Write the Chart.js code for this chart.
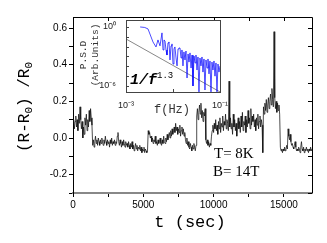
<!DOCTYPE html>
<html>
<head>
<meta charset="utf-8">
<script src="https://cdn.jsdelivr.net/npm/chart.js@4.4.0/dist/chart.umd.min.js"></script>
<style>
  html, body { margin: 0; padding: 0; background: #fff; }
  #caja { position: relative; width: 327px; height: 243px; }
  #principal { position: absolute; left: 0; top: 0; }
  #recuadro { position: absolute; left: 100px; top: 10px; }
</style>
</head>
<body>
<div id="caja">
  <canvas id="principal" width="327" height="243"></canvas>
  <canvas id="recuadro" width="140" height="100"></canvas>
</div>
<script>
// serie de resistencia, una muestra cada 50 s (0 .. 17000 s), una fila = 1000 s
var paso = 50;
var resistencia = [
  0.08, 0.10, 0.05, 0.09, 0.12, 0.06, 0.10, 0.04, 0.13, 0.08, 0.17, 0.10, 0.05, 0.09, 0.00, 0.06, 0.02, 0.11, 0.07, 0.13,
  0.04, 0.10, 0.06, 0.15, 0.09, 0.16, 0.11, 0.07, -0.04, -0.01, -0.05, -0.02, 0.01, -0.03, -0.01, -0.04, 0.00, -0.02, -0.04, -0.01,
  -0.03, 0.00, -0.02, -0.04, -0.01, -0.03, 0.01, -0.02, -0.04, -0.01, -0.03, -0.02, -0.05, -0.01, -0.03, 0.00, -0.04, -0.02, -0.03, -0.01,
  -0.04, -0.02, -0.03, 0.01, 0.03, -0.02, -0.04, -0.01, -0.03, -0.05, -0.02, -0.04, -0.01, -0.03, -0.05, -0.02, -0.04, -0.03, -0.05, -0.02,
  -0.04, -0.06, -0.03, -0.05, -0.02, -0.06, -0.04, -0.07, -0.05, -0.03, -0.06, -0.04, -0.07, -0.05, -0.06, -0.04, -0.07, -0.05, -0.08, -0.06,
  -0.07, -0.05, -0.08, -0.06, -0.07, -0.08, -0.07, 0.04, 0.02, 0.03, 0.00, 0.01, -0.02, 0.00, -0.03, -0.01, -0.02, 0.01, -0.03, -0.02,
  -0.04, -0.01, -0.03, -0.02, 0.00, -0.03, -0.04, -0.01, -0.03, 0.01, -0.02, -0.03, 0.00, -0.02, 0.02, -0.01, 0.01, 0.03, 0.00, 0.04,
  0.01, 0.05, 0.02, 0.04, 0.06, 0.03, 0.08, 0.04, 0.06, 0.02, 0.05, 0.03, 0.07, 0.01, 0.04, 0.06, 0.02, 0.05, 0.01, 0.03,
  -0.01, -0.03, 0.00, -0.04, -0.02, -0.05, -0.06, -0.03, -0.05, -0.07, -0.04, -0.06, -0.03, -0.05, -0.07, -0.04, 0.12, 0.16, 0.10, 0.14,
  0.18, 0.13, 0.19, 0.11, 0.15, 0.09, 0.14, 0.12, 0.16, -0.01, -0.03, -0.01, -0.04, -0.02, -0.05, -0.03, -0.04, 0.01, 0.04, 0.07,
  0.03, 0.08, 0.05, 0.10, 0.04, 0.07, 0.02, 0.09, 0.05, 0.11, 0.03, 0.08, 0.06, 0.12, 0.04, 0.09, 0.07, 0.13, 0.05, 0.10,
  0.08, 0.04, 0.31, 0.06, 0.11, 0.05, 0.08, 0.02, 0.13, 0.06, 0.10, 0.04, 0.08, 0.01, 0.07, 0.11, 0.05, 0.09, 0.03, 0.12,
  0.06, 0.14, 0.04, 0.09, 0.07, 0.12, 0.03, 0.10, 0.06, 0.15, 0.08, 0.11, 0.05, 0.16, 0.07, 0.12, 0.09, 0.13, 0.06, 0.10,
  0.04, 0.11, 0.07, 0.13, 0.05, 0.09, 0.12, 0.06, 0.10, 0.07, -0.08, 0.17, 0.13, 0.19, 0.15, 0.21, 0.14, 0.18, 0.22, 0.16,
  0.20, 0.24, 0.18, 0.27, 0.21, 0.17, 0.58, 0.22, 0.16, 0.20, 0.14, 0.19, 0.15, 0.18, 0.13, -0.05, -0.07, -0.06, -0.08, -0.06,
  -0.07, -0.05, -0.07, -0.06, -0.04, -0.06, 0.05, 0.01, -0.01, 0.02, -0.02, -0.04, -0.03, -0.05, -0.06, -0.04, -0.02, -0.05, -0.07, -0.06,
  -0.07, -0.05, -0.06, -0.08, -0.05, -0.02, -0.06, -0.07, -0.05, -0.08, -0.06, -0.07, -0.05, -0.07, -0.06, -0.08, -0.06, -0.07, -0.05, -0.07,
  -0.06
];
var ticksT = [0, 2500, 5000, 7500, 10000, 12500, 15000];
var ticksR = [-0.3, -0.2, -0.1, 0.0, 0.1, 0.2, 0.3, 0.4, 0.5, 0.6];

// espectro (recuadro)
var frecuencia = [
  2.0e-3, 2.5e-3, 2.94e-3, 3.75e-3, 4.35e-3, 4.79e-3, 5.29e-3, 5.83e-3,
  6.13e-3, 6.43e-3, 6.76e-3, 7.10e-3, 7.45e-3, 7.83e-3, 8.22e-3, 8.63e-3, 9.07e-3, 9.52e-3,
  1.00e-2, 1.05e-2, 1.10e-2, 1.16e-2, 1.22e-2, 1.28e-2, 1.34e-2, 1.41e-2, 1.48e-2, 1.55e-2,
  1.63e-2, 1.71e-2, 1.80e-2, 1.89e-2, 1.99e-2, 2.09e-2, 2.19e-2, 2.30e-2, 2.42e-2, 2.54e-2,
  2.66e-2, 2.80e-2, 2.94e-2, 3.08e-2, 3.24e-2, 3.40e-2, 3.57e-2, 3.75e-2, 3.94e-2, 4.14e-2,
  4.34e-2, 4.56e-2, 4.79e-2, 5.03e-2, 5.29e-2, 5.55e-2, 5.83e-2, 6.12e-2, 6.43e-2, 6.75e-2,
  7.09e-2, 7.45e-2, 7.82e-2, 8.21e-2, 8.63e-2, 9.06e-2, 9.51e-2, 1.00e-1
];
var densidad = [
  1.0, 0.89, 0.63, 0.030, 9.3e-3, 0.048, 0.012, 0.25,
  4.6e-3, 0.048, 0.038, 4.6e-3, 1.4e-3, 0.024, 0.030, 4.4e-4, 0.012, 0.019,
  1.7e-4, 5.8e-3, 9.3e-3, 7.1e-4, 1.1e-4, 5.8e-3, 7.3e-3, 7.3e-3, 7.0e-4, 4.6e-3,
  1.1e-4, 2.9e-3, 4.4e-4, 3.6e-3, 6.5e-6, 1.8e-3, 2.7e-4, 2.3e-3, 6.7e-5, 1.4e-3,
  1.0e-6, 1.1e-3, 2.2e-4, 1.4e-3, 4.2e-5, 8.9e-4, 2.5e-7, 7.0e-4, 1.1e-4, 8.9e-4,
  2.6e-5, 5.6e-4, 3.9e-7, 4.4e-4, 6.7e-5, 5.6e-4, 1.7e-5, 3.5e-4, 2.5e-7, 2.7e-4,
  4.2e-5, 3.5e-4, 1.0e-5, 2.2e-4, 2.5e-7, 1.7e-4, 2.6e-5, 1.1e-4
];
var ajusteF = [1e-3, 1e-1];
var ajusteP = [0.06, 2.5e-7];
var ticksF = [1e-3, 1e-2, 1e-1];
var ticksP = [1e-6, 1e-5, 1e-4, 1e-3, 1e-2, 1e-1, 1];

var MONO = "'Liberation Mono', 'Courier New', monospace";
var SANS = "'Liberation Sans', Arial, sans-serif";
var SERIF = "'Liberation Serif', 'Times New Roman', serif";

function anchoPartes(ctx, partes) {
  var w = 0;
  partes.forEach(function (p) {
    ctx.font = p.f;
    w += ctx.measureText(p.t).width;
  });
  return w;
}
function dibujaPartes(ctx, partes, x, y) {
  partes.forEach(function (p) {
    ctx.font = p.f;
    ctx.fillText(p.t, x, y + (p.dy || 0));
    x += ctx.measureText(p.t).width;
  });
}
function textoVertical(ctx, partes, cx, cy) {
  ctx.save();
  ctx.translate(cx, cy);
  ctx.rotate(-Math.PI / 2);
  ctx.textBaseline = "middle";
  ctx.textAlign = "left";
  dibujaPartes(ctx, partes, -anchoPartes(ctx, partes) / 2, 0);
  ctx.restore();
}

var extrasPrincipal = {
  id: "extrasPrincipal",
  beforeDraw: function (chart) {
    var ctx = chart.ctx;
    ctx.save();
    ctx.fillStyle = "#fff";
    ctx.fillRect(0, 0, chart.width, chart.height);
    ctx.restore();
  },
  afterDraw: function (chart) {
    var ctx = chart.ctx;
    var a = chart.chartArea;
    var sx = chart.scales.x, sy = chart.scales.y;
    ctx.save();
    ctx.strokeStyle = "#000";
    ctx.lineWidth = 1;
    ctx.beginPath();
    ctx.moveTo(a.left, a.top + 0.5);
    ctx.lineTo(a.right + 0.5, a.top + 0.5);
    ctx.lineTo(a.right + 0.5, a.bottom);
    // marcas interiores arriba y a la derecha
    ticksT.forEach(function (v) {
      var px = Math.round(sx.getPixelForValue(v)) + 0.5;
      ctx.moveTo(px, a.top);
      ctx.lineTo(px, a.top + 4);
    });
    ticksR.forEach(function (v) {
      var py = Math.round(sy.getPixelForValue(v)) + 0.5;
      ctx.moveTo(a.right, py);
      ctx.lineTo(a.right - 4, py);
    });
    ctx.stroke();

    ctx.fillStyle = "#000";
    // titulo eje y
    textoVertical(ctx, [
      { t: "(R-R", f: "16px " + MONO },
      { t: "0", f: "11px " + MONO, dy: 4 },
      { t: ") /R", f: "16px " + MONO },
      { t: "0", f: "11px " + MONO, dy: 4 }
    ], 25, 107);
    // titulo eje x
    ctx.font = "17px " + MONO;
    ctx.textAlign = "center";
    ctx.textBaseline = "middle";
    ctx.fillText("t (sec)", 190, 222);

    // textos del recuadro
    ctx.fillStyle = "#333";
    textoVertical(ctx, [{ t: "P.S.D", f: "9.5px " + MONO }], 83, 55);
    textoVertical(ctx, [{ t: "(Arb.Units)", f: "9.5px " + MONO }], 95, 55);
    ctx.font = "12px " + MONO;
    ctx.textAlign = "center";
    ctx.textBaseline = "middle";
    ctx.fillText("f(Hz)", 172, 110);

    // condiciones
    ctx.fillStyle = "#000";
    ctx.font = "15px " + SERIF;
    ctx.textAlign = "left";
    ctx.textBaseline = "alphabetic";
    ctx.fillText("T= 8K", 214, 158);
    ctx.fillText("B= 14T", 213, 176);
    ctx.restore();
  }
};

var extrasRecuadro = {
  id: "extrasRecuadro",
  beforeDraw: function (chart) {
    var a = chart.chartArea;
    var ctx = chart.ctx;
    ctx.save();
    ctx.fillStyle = "#fff";
    ctx.fillRect(a.left, a.top, a.right - a.left, a.bottom - a.top);
    ctx.restore();
  },
  afterDraw: function (chart) {
    var a = chart.chartArea;
    var ctx = chart.ctx;
    var sx = chart.scales.x, sy = chart.scales.y;
    ctx.save();
    ctx.strokeStyle = "#444";
    ctx.lineWidth = 1;
    ctx.strokeRect(Math.round(a.left) + 0.5, Math.round(a.top) + 0.5, Math.round(a.right - a.left), Math.round(a.bottom - a.top));
    ctx.beginPath();
    ticksP.forEach(function (v) {
      var py = Math.round(sy.getPixelForValue(v)) + 0.5;
      ctx.moveTo(a.left, py);
      ctx.lineTo(a.left + 3, py);
    });
    ticksF.forEach(function (v) {
      var px = Math.round(sx.getPixelForValue(v)) + 0.5;
      ctx.moveTo(px, a.bottom);
      ctx.lineTo(px, a.bottom - 3);
    });
    ctx.stroke();
    ctx.fillStyle = "#000";
    ctx.textBaseline = "alphabetic";
    dibujaPartes(ctx, [
      { t: "1/f", f: "italic bold 15px " + MONO },
      { t: "1.3", f: "9px " + MONO, dy: -6 }
    ], 30, 74);
    ctx.restore();
  }
};

new Chart(document.getElementById("principal"), {
  type: "line",
  data: {
    datasets: [{
      data: resistencia.map(function (v, i) { return { x: i * paso, y: v }; }),
      borderColor: "#111",
      borderWidth: 0.75,
      pointRadius: 0,
      tension: 0,
      fill: false
    }]
  },
  options: {
    responsive: false,
    animation: false,
    events: [],
    layout: { padding: { left: 0, right: 15, top: 17, bottom: 0 } },
    plugins: { legend: { display: false }, tooltip: { enabled: false } },
    scales: {
      x: {
        type: "linear",
        min: 0,
        max: 17000,
        afterBuildTicks: function (s) { s.ticks = ticksT.map(function (v) { return { value: v }; }); },
        afterFit: function (s) { s.height = 50; },
        ticks: {
          autoSkip: false,
          maxRotation: 0,
          padding: 2,
          color: "#000",
          font: { family: SANS, size: 10 },
          callback: function (v) { return v % 5000 === 0 ? String(v) : ""; }
        },
        grid: { drawOnChartArea: false, drawTicks: true, tickLength: 4, color: "#000" },
        border: { color: "#888", width: 2 }
      },
      y: {
        type: "linear",
        min: -0.3,
        max: 0.66,
        afterBuildTicks: function (s) { s.ticks = ticksR.map(function (v) { return { value: v }; }); },
        afterFit: function (s) { s.width = 73; },
        ticks: {
          autoSkip: false,
          padding: 2,
          color: "#000",
          font: { family: SANS, size: 10 },
          callback: function (v) { return Math.round(v * 10) % 2 === 0 ? v.toFixed(1) : ""; }
        },
        grid: { drawOnChartArea: false, drawTicks: true, tickLength: 4, color: "#000" },
        border: { color: "#000", width: 1 }
      }
    }
  },
  plugins: [extrasPrincipal]
});

new Chart(document.getElementById("recuadro"), {
  type: "line",
  data: {
    datasets: [{
      data: frecuencia.map(function (f, i) { return { x: f, y: densidad[i] }; }),
      borderColor: "#0000ff",
      borderWidth: 0.7,
      pointRadius: 0,
      tension: 0
    }, {
      data: ajusteF.map(function (f, i) { return { x: f, y: ajusteP[i] }; }),
      borderColor: "#888",
      borderWidth: 1,
      pointRadius: 0
    }]
  },
  options: {
    responsive: false,
    animation: false,
    events: [],
    layout: { padding: { left: 0, right: 20, top: 10, bottom: 0 } },
    plugins: { legend: { display: false }, tooltip: { enabled: false } },
    scales: {
      x: {
        type: "logarithmic",
        min: 1e-3,
        max: 1e-1,
        afterBuildTicks: function (s) { s.ticks = ticksF.map(function (v) { return { value: v }; }); },
        afterFit: function (s) { s.height = 18; s.paddingLeft = 0; s.paddingRight = 0; },
        ticks: {
          autoSkip: false,
          maxRotation: 0,
          padding: 0,
          color: "#222",
          font: { family: SANS, size: 9 },
          callback: function (v) { return v === 1e-3 ? "10\u207B\u00B3" : (v === 1e-1 ? "10\u207B\u00B9" : ""); }
        },
        grid: { display: false },
        border: { display: false }
      },
      y: {
        type: "logarithmic",
        min: 2.45e-7,
        max: 5.1,
        afterBuildTicks: function (s) { s.ticks = ticksP.map(function (v) { return { value: v }; }); },
        afterFit: function (s) { s.width = 26; },
        ticks: {
          autoSkip: false,
          padding: 2,
          color: "#222",
          font: { family: SANS, size: 9 },
          callback: function (v) { return v === 1 ? "10\u2070" : (v === 1e-6 ? "10\u207B\u2076" : ""); }
        },
        grid: { display: false },
        border: { display: false }
      }
    }
  },
  plugins: [extrasRecuadro]
});
</script>
</body>
</html>
